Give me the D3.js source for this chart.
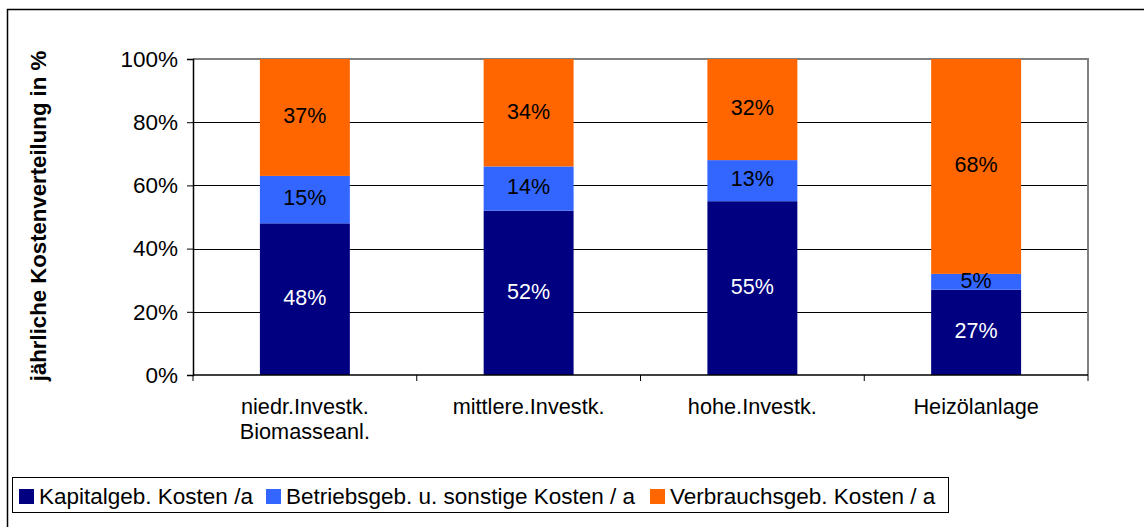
<!DOCTYPE html>
<html>
<head>
<meta charset="utf-8">
<script src="https://cdn.jsdelivr.net/npm/d3@7"></script>
<style>
  html, body { margin: 0; padding: 0; background: #fff; }
  svg { display: block; font-family: "Liberation Sans", Arial, sans-serif; }
</style>
</head>
<body>
<svg id="chart" width="1144" height="527"></svg>
<script>
// Annual cost distribution per heating system (percent shares)
const categories = [
  ["niedr.Investk.", "Biomasseanl."],
  ["mittlere.Investk."],
  ["hohe.Investk."],
  ["Heizölanlage"]
];
const kapital   = [48, 52, 55, 27];
const betrieb   = [15, 14, 13, 5];
const verbrauch = [37, 34, 32, 68];
const seriesNames = [
  "Kapitalgeb. Kosten /a",
  "Betriebsgeb. u. sonstige Kosten / a",
  "Verbrauchsgeb. Kosten / a"
];
const seriesColors = ["#000080", "#3366FF", "#FF6600"];
const labelColors  = ["#ffffff", "#000000", "#000000"];
const yTicks = [0, 0.2, 0.4, 0.6, 0.8, 1.0];

const svg = d3.select("#chart");

// outer chart frame (left and top edges visible)
svg.append("path")
  .attr("d", "M7.5,527 V9.5 H1144")
  .attr("fill", "none").attr("stroke", "#000").attr("stroke-width", 1.5);

const plot = { left: 193, right: 1088, top: 59, bottom: 375 };

const keys = categories.map((c, i) => i);
const x = d3.scaleBand().domain(keys).range([plot.left, plot.right]).paddingInner(0).paddingOuter(0);
const y = d3.scaleLinear().domain([0, 1]).range([plot.bottom, plot.top]);
const barW = x.bandwidth() * 0.402;

const rows = keys.map(i => ({ i, s0: kapital[i], s1: betrieb[i], s2: verbrauch[i] }));
const stack = d3.stack().keys(["s0", "s1", "s2"]).offset(d3.stackOffsetExpand);
const stacked = stack(rows);

// horizontal gridlines
svg.append("g").selectAll("line")
  .data(yTicks.filter(t => t > 0 && t < 1))
  .join("line")
  .attr("x1", plot.left).attr("x2", plot.right)
  .attr("y1", d => Math.round(y(d)) + 0.5).attr("y2", d => Math.round(y(d)) + 0.5)
  .attr("stroke", "#000").attr("stroke-width", 1);

// plot frame top and right (gray)
svg.append("path")
  .attr("d", `M${plot.left},${plot.top} H${plot.right} V${plot.bottom}`)
  .attr("fill", "none").attr("stroke", "#808080").attr("stroke-width", 2);

// stacked bars
const layers = svg.append("g").selectAll("g")
  .data(stacked).join("g")
  .attr("fill", (d, k) => seriesColors[k]);

layers.selectAll("rect")
  .data(d => d).join("rect")
  .attr("x", d => x(d.data.i) + (x.bandwidth() - barW) / 2)
  .attr("width", barW)
  .attr("y", d => y(d[1]))
  .attr("height", d => y(d[0]) - y(d[1]));

// value labels
const valueArrays = [kapital, betrieb, verbrauch];
stacked.forEach((layer, k) => {
  svg.append("g").selectAll("text")
    .data(layer).join("text")
    .attr("x", d => x(d.data.i) + x.bandwidth() / 2)
    .attr("y", d => (y(d[0]) + y(d[1])) / 2)
    .attr("dy", "0.27em")
    .attr("text-anchor", "middle")
    .attr("font-size", 21.5)
    .attr("fill", labelColors[k])
    .text(d => valueArrays[k][d.data.i] + "%");
});

// y axis
const yAxis = svg.append("g")
  .attr("transform", `translate(${plot.left},0)`)
  .call(d3.axisLeft(y).tickValues(yTicks).tickFormat(d3.format(".0%")).tickSize(6).tickPadding(9));
yAxis.select(".domain").attr("stroke", "#000").attr("stroke-width", 1.5);
yAxis.selectAll(".tick line").attr("stroke", "#000");
yAxis.selectAll("text").attr("font-size", 22.5).attr("fill", "#000")
  .attr("font-family", "Liberation Sans, Arial, sans-serif");

// x axis baseline with category separators
const xb = svg.append("g");
xb.append("line")
  .attr("x1", plot.left).attr("x2", plot.right)
  .attr("y1", plot.bottom).attr("y2", plot.bottom)
  .attr("stroke", "#000").attr("stroke-width", 1.5);
const bounds = keys.map(i => x(i)).concat([x(keys[keys.length - 1]) + x.bandwidth()]);
xb.selectAll("line.sep").data(bounds).join("line").attr("class", "sep")
  .attr("x1", d => d).attr("x2", d => d)
  .attr("y1", plot.bottom).attr("y2", plot.bottom + 6)
  .attr("stroke", "#000").attr("stroke-width", 1);

// category labels
const cat = svg.append("g").selectAll("text")
  .data(keys).join("text")
  .attr("x", i => x(i) + x.bandwidth() / 2)
  .attr("y", 414)
  .attr("text-anchor", "middle")
  .attr("font-size", 21.7)
  .attr("fill", "#000");
cat.each(function(i) {
  const t = d3.select(this);
  categories[i].forEach((line, j) => {
    t.append("tspan").attr("x", x(i) + x.bandwidth() / 2).attr("dy", j === 0 ? 0 : 25).text(line);
  });
});

// y axis title
svg.append("text")
  .attr("transform", `translate(46,${(plot.top + plot.bottom) / 2 - 1}) rotate(-90)`)
  .attr("text-anchor", "middle")
  .attr("font-size", 22.2).attr("font-weight", "bold")
  .text("jährliche Kostenverteilung in %");

// legend
const legend = svg.append("g");
legend.append("rect")
  .attr("x", 12.5).attr("y", 477.5).attr("width", 936).attr("height", 35)
  .attr("fill", "#fff").attr("stroke", "#000").attr("stroke-width", 1);
const legendX = [19, 266, 650];
seriesNames.forEach((name, k) => {
  legend.append("rect")
    .attr("x", legendX[k]).attr("y", 489).attr("width", 15).attr("height", 15)
    .attr("fill", seriesColors[k]);
  legend.append("text")
    .attr("x", legendX[k] + 20).attr("y", 496).attr("dy", "0.35em")
    .attr("font-size", 22.5).attr("fill", "#000")
    .text(name);
});
</script>
</body>
</html>
